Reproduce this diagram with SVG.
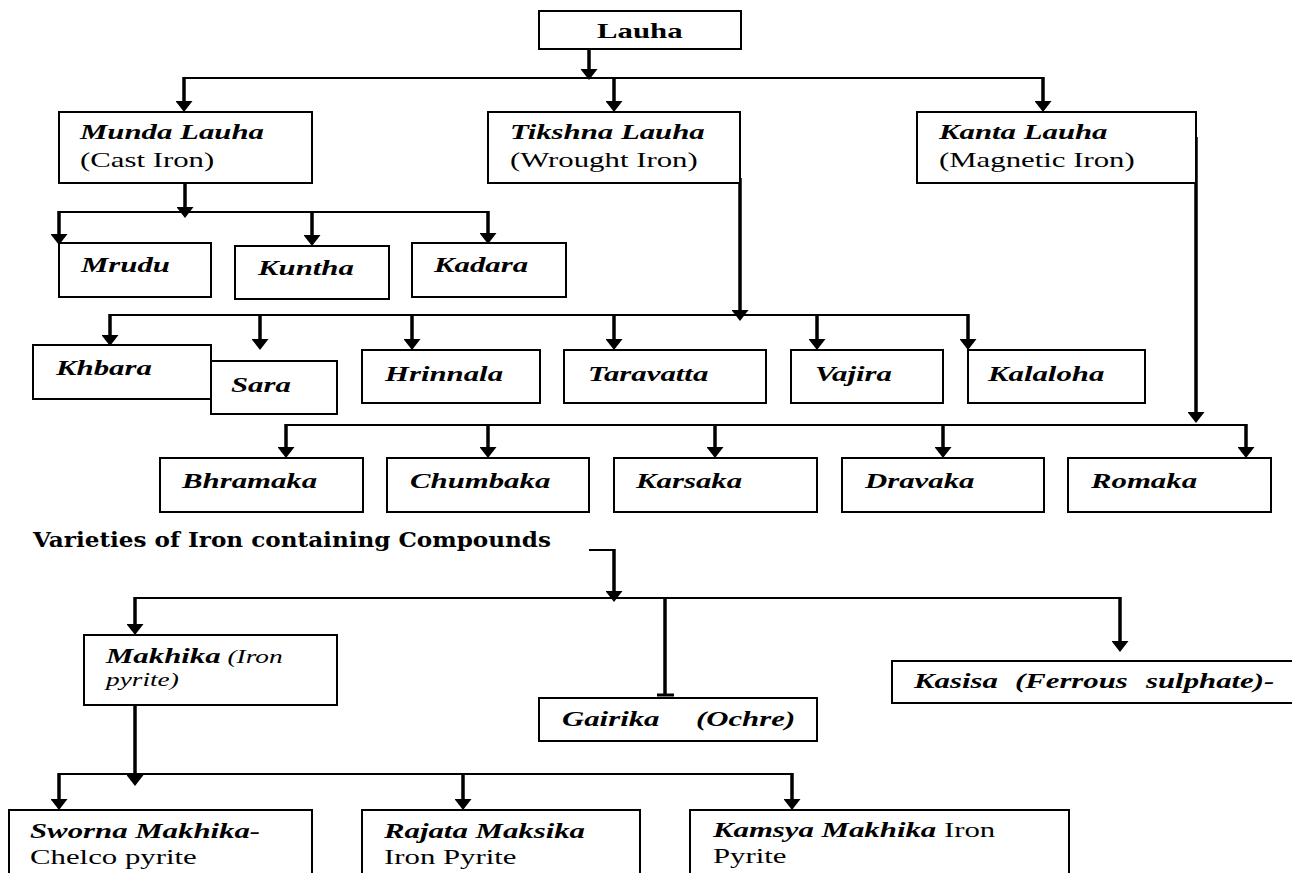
<svg xmlns="http://www.w3.org/2000/svg" width="1292" height="873" viewBox="0 0 1292 873">
<style>
.box{fill:#fff;stroke:#000;stroke-width:2}
.t{font-family:"Liberation Serif","Times New Roman",serif;font-size:22px;fill:#000}
.bi{font-weight:bold;font-style:italic}
.b{font-weight:bold}
.it{font-style:italic}
.sm{font-size:19.5px}
.bus{stroke:#000;stroke-width:2;fill:none}
.arr{stroke:#000;stroke-width:3.5;fill:none;marker-end:url(#ah)}
.hdr{font-family:"DejaVu Serif",serif;font-weight:bold;font-size:20px;fill:#000}
</style>
<defs>
<marker id="ah" markerUnits="userSpaceOnUse" markerWidth="11" markerHeight="17" viewBox="0 0 11 17" refX="1" refY="8.5" orient="auto">
<path d="M0,0 L11,8.5 L0,17 z" fill="#000"/>
</marker>
</defs>
<rect width="1292" height="873" fill="#fff"/>

<g id="connectors">
<line class="bus" x1="184" y1="78" x2="1043" y2="78"/>
<line class="bus" x1="59" y1="212" x2="488" y2="212"/>
<line class="bus" x1="110" y1="315" x2="968" y2="315"/>
<line class="bus" x1="286" y1="425" x2="1246" y2="425"/>
<line class="bus" x1="135" y1="598" x2="1120" y2="598"/>
<line class="bus" x1="59" y1="774" x2="792" y2="774"/>
<line class="bus" x1="589" y1="550" x2="615" y2="550"/>

<line class="arr" x1="589" y1="43" x2="589" y2="70"/>
<line class="arr" x1="184" y1="77" x2="184" y2="102"/>
<line class="arr" x1="614" y1="77" x2="614" y2="102"/>
<line class="arr" x1="1043" y1="77" x2="1043" y2="102"/>

<line class="arr" x1="185" y1="183" x2="185" y2="208"/>
<line class="arr" x1="59" y1="211" x2="59" y2="235"/>
<line class="arr" x1="312" y1="211" x2="312" y2="236"/>
<line class="arr" x1="488" y1="211" x2="488" y2="234"/>

<line class="arr" x1="740" y1="178" x2="740" y2="311"/>
<line class="arr" x1="110" y1="314" x2="110" y2="336"/>
<line class="arr" x1="260" y1="314" x2="260" y2="340"/>
<line class="arr" x1="412" y1="314" x2="412" y2="340"/>
<line class="arr" x1="614" y1="314" x2="614" y2="340"/>
<line class="arr" x1="817" y1="314" x2="817" y2="340"/>
<line class="arr" x1="968" y1="314" x2="968" y2="340"/>

<line class="arr" x1="1196" y1="137" x2="1196" y2="413"/>
<line class="arr" x1="286" y1="424" x2="286" y2="448"/>
<line class="arr" x1="488" y1="424" x2="488" y2="448"/>
<line class="arr" x1="715" y1="424" x2="715" y2="448"/>
<line class="arr" x1="943" y1="424" x2="943" y2="448"/>
<line class="arr" x1="1246" y1="424" x2="1246" y2="448"/>

<line class="arr" x1="614" y1="549" x2="614" y2="592"/>
<line class="arr" x1="135" y1="597" x2="135" y2="625"/>
<line class="arr" x1="1120" y1="597" x2="1120" y2="642"/>
<line stroke="#000" stroke-width="3.5" x1="665" y1="597" x2="665" y2="696"/>
<line stroke="#000" stroke-width="3" x1="657" y1="695" x2="674" y2="695"/>

<line class="arr" x1="135" y1="705" x2="135" y2="776"/>
<line class="arr" x1="59" y1="773" x2="59" y2="800"/>
<line class="arr" x1="463" y1="773" x2="463" y2="800"/>
<line class="arr" x1="792" y1="773" x2="792" y2="800"/>
</g>

<g id="lauha"><rect class="box" x="539" y="11" width="202" height="38"/>
<text class="t b" transform="matrix(1.4 0 0 1 597 38)">Lauha</text></g>

<g id="munda"><rect class="box" x="59" y="112" width="253" height="71"/>
<text class="t bi" transform="matrix(1.4 0 0 1 80 139)">Munda Lauha</text>
<text class="t" transform="matrix(1.4 0 0 1 80 167)">(Cast Iron)</text></g>

<g id="tikshna"><rect class="box" x="488" y="112" width="252" height="71"/>
<text class="t bi" transform="matrix(1.4 0 0 1 510 139)">Tikshna Lauha</text>
<text class="t" transform="matrix(1.4 0 0 1 510 167)">(Wrought Iron)</text></g>

<g id="kanta"><rect class="box" x="917" y="112" width="279" height="71"/>
<text class="t bi" transform="matrix(1.4 0 0 1 939 139)">Kanta Lauha</text>
<text class="t" transform="matrix(1.4 0 0 1 939 167)">(Magnetic Iron)</text></g>

<g id="mrudu"><rect class="box" x="59" y="243" width="152" height="54"/>
<text class="t bi" transform="matrix(1.4 0 0 1 81 272)">Mrudu</text></g>
<g id="kuntha"><rect class="box" x="235" y="246" width="154" height="53"/>
<text class="t bi" transform="matrix(1.4 0 0 1 258 275)">Kuntha</text></g>
<g id="kadara"><rect class="box" x="412" y="243" width="154" height="54"/>
<text class="t bi" transform="matrix(1.4 0 0 1 434 272)">Kadara</text></g>

<g id="khbara"><rect class="box" x="33" y="345" width="178" height="54"/>
<text class="t bi" transform="matrix(1.4 0 0 1 56 375)">Khbara</text></g>
<g id="sara"><rect class="box" x="211" y="361" width="126" height="53"/>
<text class="t bi" transform="matrix(1.4 0 0 1 231 392)">Sara</text></g>
<g id="hrinnala"><rect class="box" x="362" y="350" width="178" height="53"/>
<text class="t bi" transform="matrix(1.4 0 0 1 385 381)">Hrinnala</text></g>
<g id="taravatta"><rect class="box" x="564" y="350" width="202" height="53"/>
<text class="t bi" transform="matrix(1.4 0 0 1 588 381)">Taravatta</text></g>
<g id="vajira"><rect class="box" x="791" y="350" width="152" height="53"/>
<text class="t bi" transform="matrix(1.4 0 0 1 815 381)">Vajira</text></g>
<g id="kalaloha"><rect class="box" x="968" y="350" width="177" height="53"/>
<text class="t bi" transform="matrix(1.4 0 0 1 988 381)">Kalaloha</text></g>

<g id="bhramaka"><rect class="box" x="160" y="458" width="203" height="54"/>
<text class="t bi" transform="matrix(1.4 0 0 1 182 488)">Bhramaka</text></g>
<g id="chumbaka"><rect class="box" x="387" y="458" width="202" height="54"/>
<text class="t bi" transform="matrix(1.4 0 0 1 410 488)">Chumbaka</text></g>
<g id="karsaka"><rect class="box" x="614" y="458" width="203" height="54"/>
<text class="t bi" transform="matrix(1.4 0 0 1 636 488)">Karsaka</text></g>
<g id="dravaka"><rect class="box" x="842" y="458" width="202" height="54"/>
<text class="t bi" transform="matrix(1.4 0 0 1 865 488)">Dravaka</text></g>
<g id="romaka"><rect class="box" x="1068" y="458" width="203" height="54"/>
<text class="t bi" transform="matrix(1.4 0 0 1 1091 488)">Romaka</text></g>

<g id="varieties"><text class="hdr" x="33" y="547" textLength="518" lengthAdjust="spacingAndGlyphs">Varieties of Iron containing Compounds</text></g>

<g id="makhika"><rect class="box" x="84" y="635" width="253" height="70"/>
<text class="t" transform="matrix(1.4 0 0 1 106 663)"><tspan class="bi">Makhika</tspan><tspan class="it sm"> (Iron</tspan></text>
<text class="t it sm" transform="matrix(1.4 0 0 1 106 686)">pyrite)</text></g>

<g id="gairika"><rect class="box" x="539" y="698" width="278" height="43"/>
<text class="t bi" transform="matrix(1.4 0 0 1 562 726)">Gairika<tspan x="95.7">(Ochre)</tspan></text></g>

<g id="kasisa"><rect class="box" x="892" y="661" width="420" height="42"/>
<text class="t bi" transform="matrix(1.4 0 0 1 914 688)">Kasisa<tspan x="72.1">(Ferrous</tspan><tspan x="165.7">sulphate)-</tspan></text></g>

<g id="sworna"><rect class="box" x="9" y="810" width="303" height="80"/>
<text class="t bi" transform="matrix(1.4 0 0 1 30 838)">Sworna Makhika-</text>
<text class="t" transform="matrix(1.4 0 0 1 30 864)">Chelco pyrite</text></g>

<g id="rajata"><rect class="box" x="362" y="810" width="278" height="80"/>
<text class="t bi" transform="matrix(1.4 0 0 1 384 838)">Rajata Maksika</text>
<text class="t" transform="matrix(1.4 0 0 1 384 864)">Iron Pyrite</text></g>

<g id="kamsya"><rect class="box" x="690" y="810" width="379" height="80"/>
<text class="t" transform="matrix(1.4 0 0 1 713 837)"><tspan class="bi">Kamsya Makhika</tspan> Iron</text>
<text class="t" transform="matrix(1.4 0 0 1 713 863)">Pyrite</text></g>
</svg>
